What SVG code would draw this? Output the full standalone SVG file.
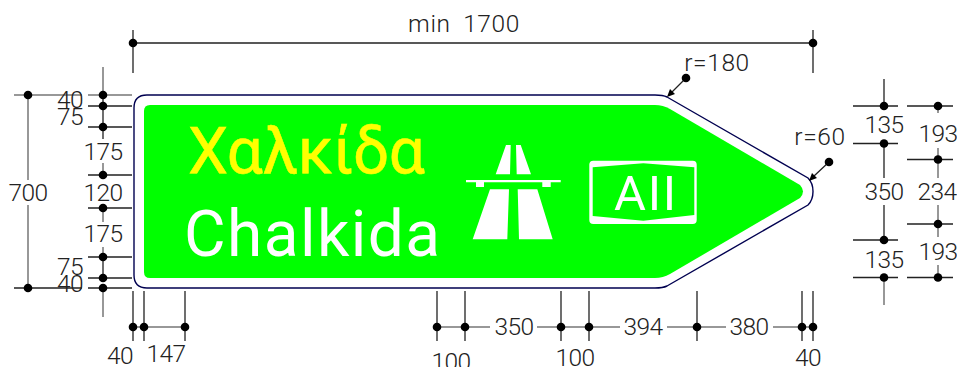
<svg xmlns="http://www.w3.org/2000/svg" width="957" height="367" viewBox="0 0 957 367">
<style>
text{font-family:"Liberation Sans",Arial,sans-serif}
.d{font-family:Roboto,"Liberation Sans",sans-serif;font-weight:300;font-size:24.500px;fill:#222;text-anchor:middle;letter-spacing:-0.6px}
.r{letter-spacing:0.6px}
.s{font-family:Roboto,"Liberation Sans",sans-serif;font-size:64px}
.l{stroke:#222;stroke-width:1.300;fill:none}
.g{stroke:#777;stroke-width:1.500;fill:none}
.p{fill:#000}
.w{fill:#fff}
</style>
<defs><circle id="o" r="4.300" class="p"/></defs>
<rect width="957" height="367" fill="#fff"/>
<g id="sign">
<path d="M147 95H655Q663 95 667 97L808 178Q813 183 813 191.500Q813 200 808 205L667 286Q663 288 655 288H147Q134 288 134 275V108Q134 95 147 95Z" fill="#fff" stroke="#000050" stroke-width="1.400"/>
<path d="M150 105H655Q663 105 670 109L800 185Q806 191.500 800 198L670 274Q663 278 655 278H150Q144 278 144 272V111Q144 105 150 105Z" fill="#0f0"/>
</g>
<g id="legend-greek"><text class="s" x="188" y="173" fill="#ff0" stroke="#ff0" stroke-width="0.500" textLength="237" lengthAdjust="spacing">Χαλκίδα</text></g>
<g id="legend-latin"><text class="s" x="184" y="256" fill="#fff" textLength="256" lengthAdjust="spacing">Chalkida</text></g>
<g id="motorway-symbol">
<path class="w" d="M506 145H510.700L510 174.300H495.700ZM516 145H520.700L531 174.300H516.700ZM466 180H560.700V182.200H550.700V187H542.300V182.200H484V187H476V182.200H466ZM490 189.300H509L507.300 239.300H472.700ZM517.700 189.300H537.300L552.700 239.300H519Z"/>
</g>
<g id="route-shield">
<rect class="w" x="589.300" y="160.700" width="107.400" height="63.300" rx="4"/>
<path fill="#0f0" d="M592.700 167.300L643.300 163.300L694.300 167.300V215L643.300 220.700L592.700 216Z"/>
<text x="614" y="210" font-size="49" fill="#fff" style="font-family:Roboto,sans-serif" textLength="62" lengthAdjust="spacing">AII</text>
</g>
<g id="connectors">
<path class="l" d="M133 30V73M813 30V73M133 43H813"/>
<path class="g" d="M14 95H82M88 95H132M28 95V180M28 205V288"/>
<path class="l" d="M14 288H82M88 288H132M88 106H132M88 127H132M88 175H132M88 208H132M88 257H132M88 278H132"/>
<path class="g" d="M103 67V95M103 163V175M103 208V222M103 247V257M103 288V317"/>
<path class="l" d="M103 95V139M103 257V278"/>
<path class="l" d="M133 291V341M144 291V341M185 291V341M437 291V341M465 291V341M561 291V341M589 291V341M697 291V341M802 291V341M813 291V341"/>
<path class="g" d="M133 327H185M437 327H490M537 327H620M667 327H726M773 327H813"/>
<path class="l" d="M853 106H898M853 143.500H898M853 240H898M853 277.500H898M907 106H953M907 159.500H953M907 224H953M907 277.500H953"/>
<path class="l" d="M884 79V106M884 143.500V178M884 205V240"/>
<path class="g" d="M884 277.500V305M938 106V113M938 148V178M938 205V237M938 265V277.500"/>
<path class="l" d="M686 78L672 92M829 162L814 176"/>
<path class="p" d="M667 97L670 89L675 94ZM809 181L812 173L817 178Z"/>
</g>
<g id="dots">
<use href="#o" x="133" y="43"/><use href="#o" x="813" y="43"/>
<use href="#o" x="28" y="95"/><use href="#o" x="28" y="288"/>
<use href="#o" x="103" y="95"/><use href="#o" x="103" y="106"/><use href="#o" x="103" y="127"/><use href="#o" x="103" y="175"/><use href="#o" x="103" y="208"/><use href="#o" x="103" y="257"/><use href="#o" x="103" y="278"/><use href="#o" x="103" y="288"/>
<use href="#o" x="133" y="327"/><use href="#o" x="144" y="327"/><use href="#o" x="185" y="327"/><use href="#o" x="437" y="327"/><use href="#o" x="465" y="327"/><use href="#o" x="561" y="327"/><use href="#o" x="589" y="327"/><use href="#o" x="697" y="327"/><use href="#o" x="802" y="327"/><use href="#o" x="813" y="327"/>
<use href="#o" x="884" y="106"/><use href="#o" x="884" y="143.500"/><use href="#o" x="884" y="240"/><use href="#o" x="884" y="277.500"/>
<use href="#o" x="938" y="106"/><use href="#o" x="938" y="159.500"/><use href="#o" x="938" y="224"/><use href="#o" x="938" y="277.500"/>
<use href="#o" x="686" y="78"/><use href="#o" x="829" y="162"/>
</g>
<g id="dimension-labels">
<text class="d r" x="464" y="32" word-spacing="6">min 1700</text>
<text class="d r" x="717" y="71">r=180</text>
<text class="d r" x="820" y="145">r=60</text>
<text class="d" x="28" y="201">700</text>
<text class="d" x="70" y="108">40</text>
<text class="d" x="70" y="125">75</text>
<text class="d" x="103" y="160">175</text>
<text class="d" x="103" y="201">120</text>
<text class="d" x="103" y="242">175</text>
<text class="d" x="70" y="275">75</text>
<text class="d" x="70" y="292">40</text>
<text class="d" x="120" y="364">40</text>
<text class="d" x="166" y="362">147</text>
<text class="d" x="451" y="370">100</text>
<text class="d" x="514" y="335">350</text>
<text class="d" x="575" y="366">100</text>
<text class="d" x="643" y="335">394</text>
<text class="d" x="749" y="335">380</text>
<text class="d" x="808" y="366">40</text>
<text class="d" x="884" y="133">135</text>
<text class="d" x="884" y="200">350</text>
<text class="d" x="884" y="268">135</text>
<text class="d" x="938" y="142">193</text>
<text class="d" x="937" y="200">234</text>
<text class="d" x="938" y="260">193</text>
</g>
</svg>
